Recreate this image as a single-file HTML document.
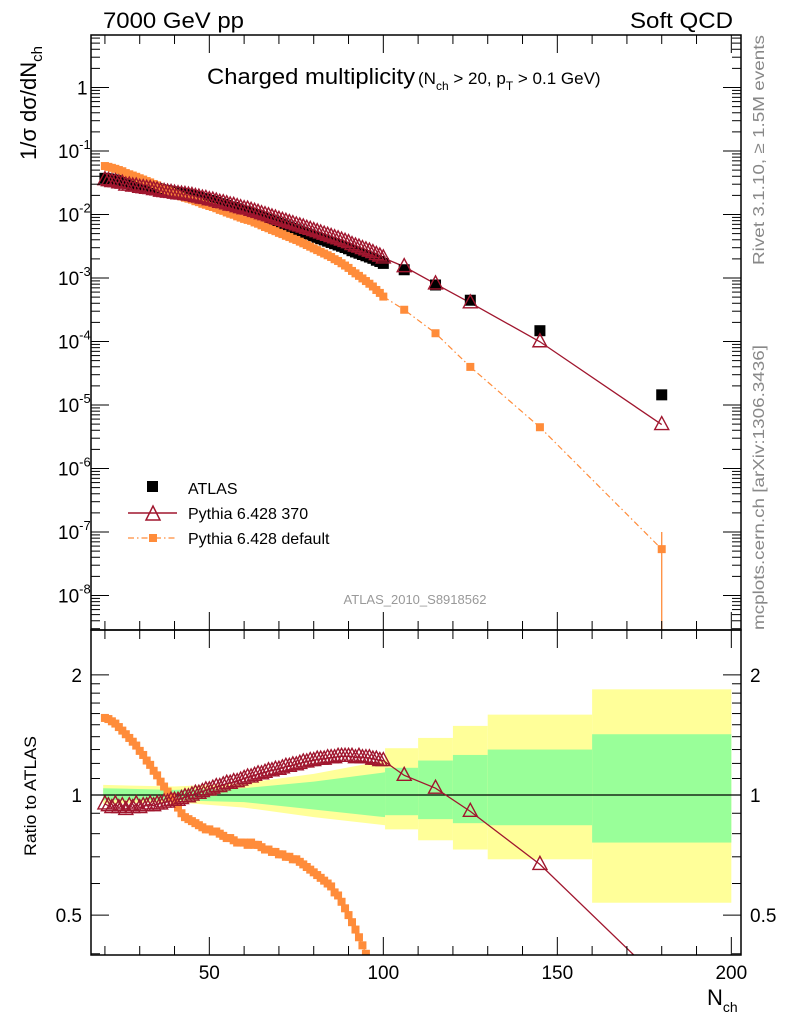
<!DOCTYPE html>
<html><head><meta charset="utf-8">
<style>
html,body{margin:0;padding:0;background:#fff;overflow:hidden;}
svg{display:block;font-family:"Liberation Sans",Arial,sans-serif;}
</style></head>
<body>
<svg id="chart" width="786" height="1024" viewBox="0 0 786 1024" xmlns="http://www.w3.org/2000/svg">
  <text x="103" y="28" font-size="22" textLength="141" lengthAdjust="spacingAndGlyphs">7000 GeV pp</text>
  <text x="630" y="28" font-size="22" textLength="103" lengthAdjust="spacingAndGlyphs">Soft QCD</text>
  <text transform="translate(764,265) rotate(-90)" font-size="16" fill="#888" textLength="230" lengthAdjust="spacingAndGlyphs">Rivet 3.1.10, ≥ 1.5M events</text>
  <text transform="translate(764,630) rotate(-90)" font-size="16" fill="#888" textLength="285" lengthAdjust="spacingAndGlyphs">mcplots.cern.ch [arXiv:1306.3436]</text>
  <text x="207" y="84" font-size="22" textLength="208" lengthAdjust="spacingAndGlyphs">Charged multiplicity</text>
  <text x="418" y="84" font-size="17">(N<tspan font-size="12" dy="6">ch</tspan><tspan dy="-6"> &gt; 20, p</tspan><tspan font-size="12" dy="6">T</tspan><tspan dy="-6"> &gt; 0.1 GeV)</tspan></text>
  <text transform="translate(36,160) rotate(-90)" font-size="22">1/σ dσ/dN<tspan font-size="15" dy="6">ch</tspan></text>
  <text transform="translate(36,856) rotate(-90)" font-size="17" textLength="120" lengthAdjust="spacingAndGlyphs">Ratio to ATLAS</text>
  <text x="707" y="1005" font-size="22">N<tspan font-size="14" dy="7">ch</tspan></text>
  <text x="415" y="604" font-size="13" fill="#999" text-anchor="middle">ATLAS_2010_S8918562</text>
  <g id="g-bands"></g>
  <g id="g-series"></g>
  <g id="g-axes"></g>
  <g>
    <rect x="147" y="481" width="11" height="11" fill="#000"/>
    <text x="188" y="494" font-size="16">ATLAS</text>
    <line x1="128" y1="513" x2="177" y2="513" stroke="#a0162e" stroke-width="1.5"/>
    <polygon points="146,520 160,520 153,506" fill="none" stroke="#a0162e" stroke-width="1.5"/>
    <text x="188" y="519" font-size="16">Pythia 6.428 370</text>
    <line x1="128" y1="538" x2="177" y2="538" stroke="#ff8c3a" stroke-width="1.2" stroke-dasharray="6,3,1.5,3"/>
    <rect x="149" y="534" width="8" height="8" fill="#ff8c3a"/>
    <text x="188" y="544" font-size="16">Pythia 6.428 default</text>
  </g>
</svg>
<script>
// ---- data ----
const nFine = [20,21,22,23,24,25,26,27,28,29,30,31,32,33,34,35,36,37,38,39,40,41,42,43,44,45,46,47,48,49,50,51,52,53,54,55,56,57,58,59,60,61,62,63,64,65,66,67,68,69,70,71,72,73,74,75,76,77,78,79,80,81,82,83,84,85,86,87,88,89,90,91,92,93,94,95,96,97,98,99,100];
const nWide = [106,115,125,145,180];
const atlasLogFine = [-1.43,-1.44,-1.45,-1.46,-1.47,-1.48,-1.50,-1.51,-1.52,-1.53,-1.54,-1.55,-1.56,-1.57,-1.58,-1.59,-1.61,-1.62,-1.63,-1.64,-1.65,-1.66,-1.67,-1.68,-1.69,-1.70,-1.72,-1.73,-1.75,-1.76,-1.78,-1.79,-1.81,-1.83,-1.84,-1.86,-1.88,-1.89,-1.91,-1.93,-1.95,-1.96,-1.98,-2.00,-2.02,-2.04,-2.06,-2.08,-2.10,-2.12,-2.14,-2.16,-2.18,-2.20,-2.22,-2.24,-2.26,-2.28,-2.30,-2.32,-2.34,-2.36,-2.38,-2.40,-2.42,-2.44,-2.46,-2.48,-2.50,-2.52,-2.54,-2.57,-2.59,-2.61,-2.63,-2.65,-2.67,-2.69,-2.72,-2.74,-2.77];
const atlasLogWide = [-2.87,-3.11,-3.35,-3.83,-4.84];
const p370RatioFine = [0.95,0.94,0.93,0.95,0.93,0.94,0.92,0.94,0.93,0.95,0.93,0.94,0.94,0.95,0.94,0.95,0.95,0.96,0.96,0.97,0.97,0.97,0.98,0.99,0.99,1.00,1.01,1.01,1.02,1.03,1.03,1.04,1.05,1.05,1.06,1.07,1.07,1.08,1.08,1.09,1.10,1.11,1.11,1.12,1.13,1.13,1.14,1.15,1.15,1.16,1.16,1.17,1.18,1.18,1.19,1.19,1.20,1.21,1.21,1.22,1.22,1.23,1.23,1.23,1.24,1.24,1.24,1.25,1.25,1.25,1.25,1.25,1.24,1.25,1.24,1.24,1.24,1.23,1.23,1.22,1.22];
const p370RatioWide = [1.12,1.04,0.91,0.67,0.34];
const defRatioFine = [1.56,1.55,1.53,1.51,1.48,1.45,1.42,1.39,1.36,1.33,1.29,1.26,1.22,1.19,1.15,1.12,1.08,1.05,1.02,0.99,0.96,0.93,0.90,0.88,0.87,0.86,0.85,0.84,0.83,0.82,0.82,0.81,0.81,0.80,0.79,0.78,0.78,0.77,0.76,0.76,0.76,0.75,0.76,0.75,0.75,0.74,0.73,0.73,0.72,0.72,0.71,0.71,0.70,0.70,0.69,0.69,0.68,0.67,0.66,0.65,0.64,0.63,0.62,0.61,0.60,0.59,0.57,0.56,0.54,0.52,0.50,0.48,0.46,0.44,0.42,0.40,0.38,0.36,0.34,0.32,0.30];
const defLogWide = [-3.50,-3.87,-4.40,-5.35,-7.27];
const bandN = [19.5,40,60,80,100.5];
const yellowUp = [1.06,1.05,1.07,1.13,1.22];
const yellowDn = [0.95,0.96,0.93,0.88,0.84];
const greenUp = [1.04,1.03,1.04,1.08,1.14];
const greenDn = [0.97,0.97,0.96,0.92,0.88];
const wideEdges = [100.5,110,120,130,160,200];
const wideYUp = [1.31,1.39,1.49,1.59,1.84];
const wideYDn = [0.82,0.77,0.73,0.69,0.537];
const wideGUp = [1.17,1.22,1.26,1.30,1.42];
const wideGDn = [0.89,0.87,0.85,0.84,0.76];
const xTicksMajor = [50,100,150,200];
const mainDecades = [0,-1,-2,-3,-4,-5,-6,-7,-8];
const mainDecadeLabels = ["1","10","10","10","10","10","10","10","10"];
const ratioMajor = [0.5,1,2];
const ratioMinor = [0.4,0.6,0.7,0.8,0.9,1.1,1.2,1.3,1.4,1.5,1.6,1.7,1.8,1.9];

// ---- geometry ----
const L=91, R=741, T1=35, B1=630, T2=630, B2=955;
const X = n => L + (n-16)*3.48;
const YM = lg => 87.5 - lg*63.5;
const YR = r => 795 - 399*Math.log10(r);
const NS='http://www.w3.org/2000/svg';
function mk(tag, attrs, parent){const e=document.createElementNS(NS,tag);for(const k in attrs)e.setAttribute(k,attrs[k]);parent.appendChild(e);return e;}
const gB=document.getElementById('g-bands'), gS=document.getElementById('g-series'), gA=document.getElementById('g-axes');

function bandPath(up,dn){
  let top=[],bot=[];
  for(let i=0;i<bandN.length;i++){top.push([X(bandN[i]),YR(up[i])]);bot.push([X(bandN[i]),YR(dn[i])]);}
  return 'M'+top.map(p=>p.join(',')).join(' L')+' L'+bot.reverse().map(p=>p.join(',')).join(' L')+'Z';
}
let e;
e=mk('path',{d:bandPath(yellowUp,yellowDn),fill:'#ffff99'},gB);


e=mk('path',{d:bandPath(greenUp,greenDn),fill:'#99ff99'},gB);


for(let i=0;i<wideYUp.length;i++){
  const x1=X(wideEdges[i]), x2=X(wideEdges[i+1]);
  e=mk('rect',{x:x1,y:YR(wideYUp[i]),width:x2-x1,height:YR(wideYDn[i])-YR(wideYUp[i]),fill:'#ffff99'},gB);
  
  
  e=mk('rect',{x:x1,y:YR(wideGUp[i]),width:x2-x1,height:YR(wideGDn[i])-YR(wideGUp[i]),fill:'#99ff99'},gB);
  
  
}
e=mk('line',{x1:L,y1:YR(1),x2:R,y2:YR(1),stroke:'#000','stroke-width':1.3},gB);



const defs=mk('defs',{},gS);
const c1=mk('clipPath',{id:'clipMain'},defs); mk('rect',{x:L,y:T1,width:R-L,height:B1-T1},c1);
const c2=mk('clipPath',{id:'clipRatio'},defs); mk('rect',{x:L,y:T2,width:R-L,height:B2-T2},c2);
const gMain=mk('g',{'clip-path':'url(#clipMain)'},gS);
const gRat=mk('g',{'clip-path':'url(#clipRatio)'},gS);

const allN=nFine.concat(nWide);
const atlasLog=atlasLogFine.concat(atlasLogWide);
const p370R=p370RatioFine.concat(p370RatioWide);
const defR=defRatioFine.concat(nWide.map((n,i)=>Math.pow(10,defLogWide[i]-atlasLogWide[i])));
const p370Log=atlasLog.map((v,i)=>v+Math.log10(p370R[i]));
const defLog=atlasLog.map((v,i)=>v+Math.log10(defR[i]));
const RED='#a0162e', OR='#ff8c3a';

function poly(ys){return allN.map((n,i)=>X(n)+','+ys[i]).join(' ');}
e=mk('polyline',{points:poly(defLog.map(YM)),fill:'none',stroke:OR,'stroke-width':1.2,'stroke-dasharray':'6,3,1.5,3'},gMain);


e=mk('polyline',{points:poly(p370Log.map(YM)),fill:'none',stroke:RED,'stroke-width':1.3},gMain);


e=mk('polyline',{points:poly(defR.map(YR)),fill:'none',stroke:OR,'stroke-width':1.2,'stroke-dasharray':'6,3,1.5,3'},gRat);


e=mk('polyline',{points:poly(p370R.map(YR)),fill:'none',stroke:RED,'stroke-width':1.3},gRat);


e=mk('line',{x1:X(180),y1:YM(-7),x2:X(180),y2:B1,stroke:OR,'stroke-width':1.3},gMain);



allN.forEach((n,i)=>{
  const x=X(n);
  let m=mk('rect',{x:x-5.5,y:YM(atlasLog[i])-5.5,width:11,height:11,fill:'#000'},gMain);
  
  
});
allN.forEach((n,i)=>{
  const x=X(n);
  let m=mk('rect',{x:x-4,y:YM(defLog[i])-4,width:8,height:8,fill:OR},gMain);
  
  
  m=mk('rect',{x:x-4,y:YR(defR[i])-4,width:8,height:8,fill:OR},gRat);
  
  
});
allN.forEach((n,i)=>{
  const x=X(n);
  let y=YM(p370Log[i]);
  let m=mk('polygon',{points:`${x-7},${y+5} ${x+7},${y+5} ${x},${y-8}`,fill:'none',stroke:RED,'stroke-width':1.4},gMain);
  
  
  y=YR(p370R[i]);
  m=mk('polygon',{points:`${x-7},${y+5} ${x+7},${y+5} ${x},${y-8}`,fill:'none',stroke:RED,'stroke-width':1.4},gRat);
  
  
});

e=mk('rect',{x:L,y:T1,width:R-L,height:B1-T1,fill:'none',stroke:'#000','stroke-width':1.5},gA);


e=mk('rect',{x:L,y:T2,width:R-L,height:B2-T2,fill:'none',stroke:'#000','stroke-width':1.5},gA);


function tk(x1,y1,x2,y2){const t=mk('line',{x1,y1,x2,y2,stroke:'#000','stroke-width':1},gA);
  
  }
for(let n=20;n<=200;n+=10){
  const x=X(n), big=xTicksMajor.includes(n), len=big?18:9;
  tk(x,T1,x,T1+len); tk(x,B1,x,B1-len); tk(x,T2,x,T2+len); tk(x,B2,x,B2-len);
}
xTicksMajor.forEach(n=>{
  const t=mk('text',{x:X(n),y:979,'font-size':19,'text-anchor':'middle'},gA); t.textContent=n;
  
  
});
mainDecades.forEach((d,i)=>{
  const y=YM(d);
  tk(L,y,L+18,y); tk(R,y,R-18,y);
  const t=mk('text',{x:i===0?77:58,y:y+7,'font-size':19,'text-anchor':'start'},gA);
  
  
  if(i===0){t.textContent='1';}
  else{t.textContent=mainDecadeLabels[i];const s=mk('tspan',{dy:-9,'font-size':13},t);s.textContent=String(d);}
  for(let k=2;k<=9;k++){
    const yy=YM(d+Math.log10(k));
    if(yy>T1 && yy<B1){tk(L,yy,L+9,yy); tk(R,yy,R-9,yy);}
  }
});
for(let k=2;k<=9;k++){const yy=YM(-9+Math.log10(k)); if(yy>T1&&yy<B1){tk(L,yy,L+9,yy);tk(R,yy,R-9,yy);}}
ratioMajor.forEach(r=>{
  const y=YR(r); tk(L,y,L+18,y); tk(R,y,R-18,y);
  const lbl=r===0.5?'0.5':String(r);
  let t=mk('text',{x:82,y:y+7,'font-size':19,'text-anchor':'end'},gA); t.textContent=lbl;
  
  
  t=mk('text',{x:750,y:y+7,'font-size':19},gA); t.textContent=lbl;
  
  
});
ratioMinor.forEach(r=>{const y=YR(r); tk(L,y,L+9,y); tk(R,y,R-9,y);});
</script>
</body></html>
